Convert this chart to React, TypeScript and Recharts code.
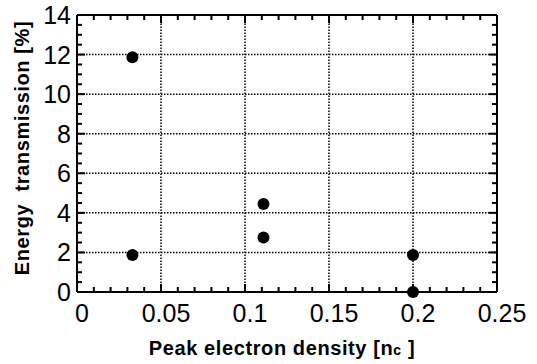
import React from 'react';
import { ScatterChart, Scatter, XAxis, YAxis, ReferenceLine } from 'recharts';

// peak electron density [nc] and energy transmission [%]
const density = [0.033, 0.033, 0.111, 0.111, 0.2, 0.2];
const transmission = [11.86, 1.87, 4.45, 2.76, 1.87, 0];

const xMajor = [0, 0.05, 0.1, 0.15, 0.2, 0.25];
const xTicks = [
  0, 0.01, 0.02, 0.03, 0.04, 0.05, 0.06, 0.07, 0.08, 0.09, 0.1, 0.11, 0.12,
  0.13, 0.14, 0.15, 0.16, 0.17, 0.18, 0.19, 0.2, 0.21, 0.22, 0.23, 0.24, 0.25,
];
const yMajor = [0, 2, 4, 6, 8, 10, 12, 14];
const yTicks = [
  0, 0.5, 1, 1.5, 2, 2.5, 3, 3.5, 4, 4.5, 5, 5.5, 6, 6.5, 7, 7.5, 8, 8.5, 9,
  9.5, 10, 10.5, 11, 11.5, 12, 12.5, 13, 13.5, 14,
];
const xGrid = [0.05, 0.1, 0.15, 0.2];
const yGrid = [2, 4, 6, 8, 10, 12];

const data = density.map((x, i) => ({ x, y: transmission[i] }));

const FONT = '"Liberation Sans", Arial, Helvetica, sans-serif';
const MAJOR = 8;
const MINOR = 5;

const BottomTick = ({ x, y, payload }: any) => {
  const major = xMajor.includes(payload.value);
  return (
    <g>
      <line x1={x} y1={y} x2={x} y2={y - (major ? MAJOR : MINOR)} stroke="#000" strokeWidth={2} />
      {major && (
        <text x={x + 5} y={y + 30} textAnchor="middle" fontSize={25} fontFamily={FONT} fill="#000">
          {payload.value}
        </text>
      )}
    </g>
  );
};

const TopTick = ({ x, y, payload }: any) => {
  const major = xMajor.includes(payload.value);
  return <line x1={x} y1={y} x2={x} y2={y + (major ? MAJOR : MINOR)} stroke="#000" strokeWidth={2} />;
};

const LeftTick = ({ x, y, payload }: any) => {
  const major = yMajor.includes(payload.value);
  return (
    <g>
      <line x1={x} y1={y} x2={x + (major ? MAJOR : MINOR)} y2={y} stroke="#000" strokeWidth={2} />
      {major && (
        <text x={x - 6} y={y + 9} textAnchor="end" fontSize={25} fontFamily={FONT} fill="#000">
          {payload.value}
        </text>
      )}
    </g>
  );
};

const RightTick = ({ x, y, payload }: any) => {
  const major = yMajor.includes(payload.value);
  return <line x1={x} y1={y} x2={x - (major ? MAJOR : MINOR)} y2={y} stroke="#000" strokeWidth={2} />;
};

const Dot = (props: any) => <circle cx={props.cx} cy={props.cy} r={6} fill="#000" />;
const NoDot = () => <g />;

export default function App() {
  return (
    <div style={{ position: 'absolute', left: 0, top: 0, background: '#fff' }}>
      <ScatterChart width={537} height={364} margin={{ top: 14, right: 39, bottom: 0, left: 0 }}>
        <XAxis
          xAxisId="b"
          type="number"
          dataKey="x"
          domain={[0, 0.25]}
          ticks={xTicks}
          interval={0}
          tickSize={0}
          tickMargin={0}
          tickLine={false}
          tick={<BottomTick />}
          height={72}
          axisLine={{ stroke: '#000', strokeWidth: 2 }}
          label={(props: any) => {
            const vb = props.viewBox;
            return (
              <text
                x={vb.x + 205}
                y={vb.y + 63}
                textAnchor="middle"
                fontSize={20}
                fontWeight="bold"
                fontFamily={FONT}
                letterSpacing={0.6}
                fill="#000"
              >
                Peak electron density [n<tspan fontSize={14}>c</tspan> ]
              </text>
            );
          }}
        />
        <XAxis
          xAxisId="t"
          orientation="top"
          type="number"
          dataKey="x"
          domain={[0, 0.25]}
          ticks={xTicks}
          interval={0}
          tickSize={0}
          tickMargin={0}
          tickLine={false}
          tick={<TopTick />}
          height={1}
          axisLine={{ stroke: '#000', strokeWidth: 2 }}
        />
        <YAxis
          yAxisId="l"
          type="number"
          dataKey="y"
          domain={[0, 14]}
          ticks={yTicks}
          interval={0}
          tickSize={0}
          tickMargin={0}
          tickLine={false}
          tick={<LeftTick />}
          width={77}
          axisLine={{ stroke: '#000', strokeWidth: 2 }}
          label={(props: any) => {
            const vb = props.viewBox;
            const cx = vb.x + 22;
            const cy = vb.y + 133;
            return (
              <text
                x={cx}
                y={cy}
                transform={`rotate(-90 ${cx} ${cy})`}
                textAnchor="middle"
                dominantBaseline="central"
                fontSize={20}
                fontWeight="bold"
                fontFamily={FONT}
                letterSpacing={0.6}
                fill="#000"
                style={{ whiteSpace: 'pre' }}
              >
                {'Energy  transmission [%]'}
              </text>
            );
          }}
        />
        <YAxis
          yAxisId="r"
          orientation="right"
          type="number"
          dataKey="y"
          domain={[0, 14]}
          ticks={yTicks}
          interval={0}
          tickSize={0}
          tickMargin={0}
          tickLine={false}
          tick={<RightTick />}
          width={1}
          axisLine={{ stroke: '#000', strokeWidth: 2 }}
        />
        {xGrid.map((v) => (
          <ReferenceLine key={'x' + v} x={v} xAxisId="b" yAxisId="l" stroke="#000" strokeWidth={1.5} strokeDasharray="1.5 1.5" />
        ))}
        {yGrid.map((v) => (
          <ReferenceLine key={'y' + v} y={v} xAxisId="b" yAxisId="l" stroke="#000" strokeWidth={1.5} strokeDasharray="1.5 1.5" />
        ))}
        <Scatter data={data} xAxisId="t" yAxisId="r" shape={<NoDot />} isAnimationActive={false} />
        <Scatter data={data} xAxisId="b" yAxisId="l" fill="#000" shape={<Dot />} isAnimationActive={false} />
      </ScatterChart>
    </div>
  );
}
